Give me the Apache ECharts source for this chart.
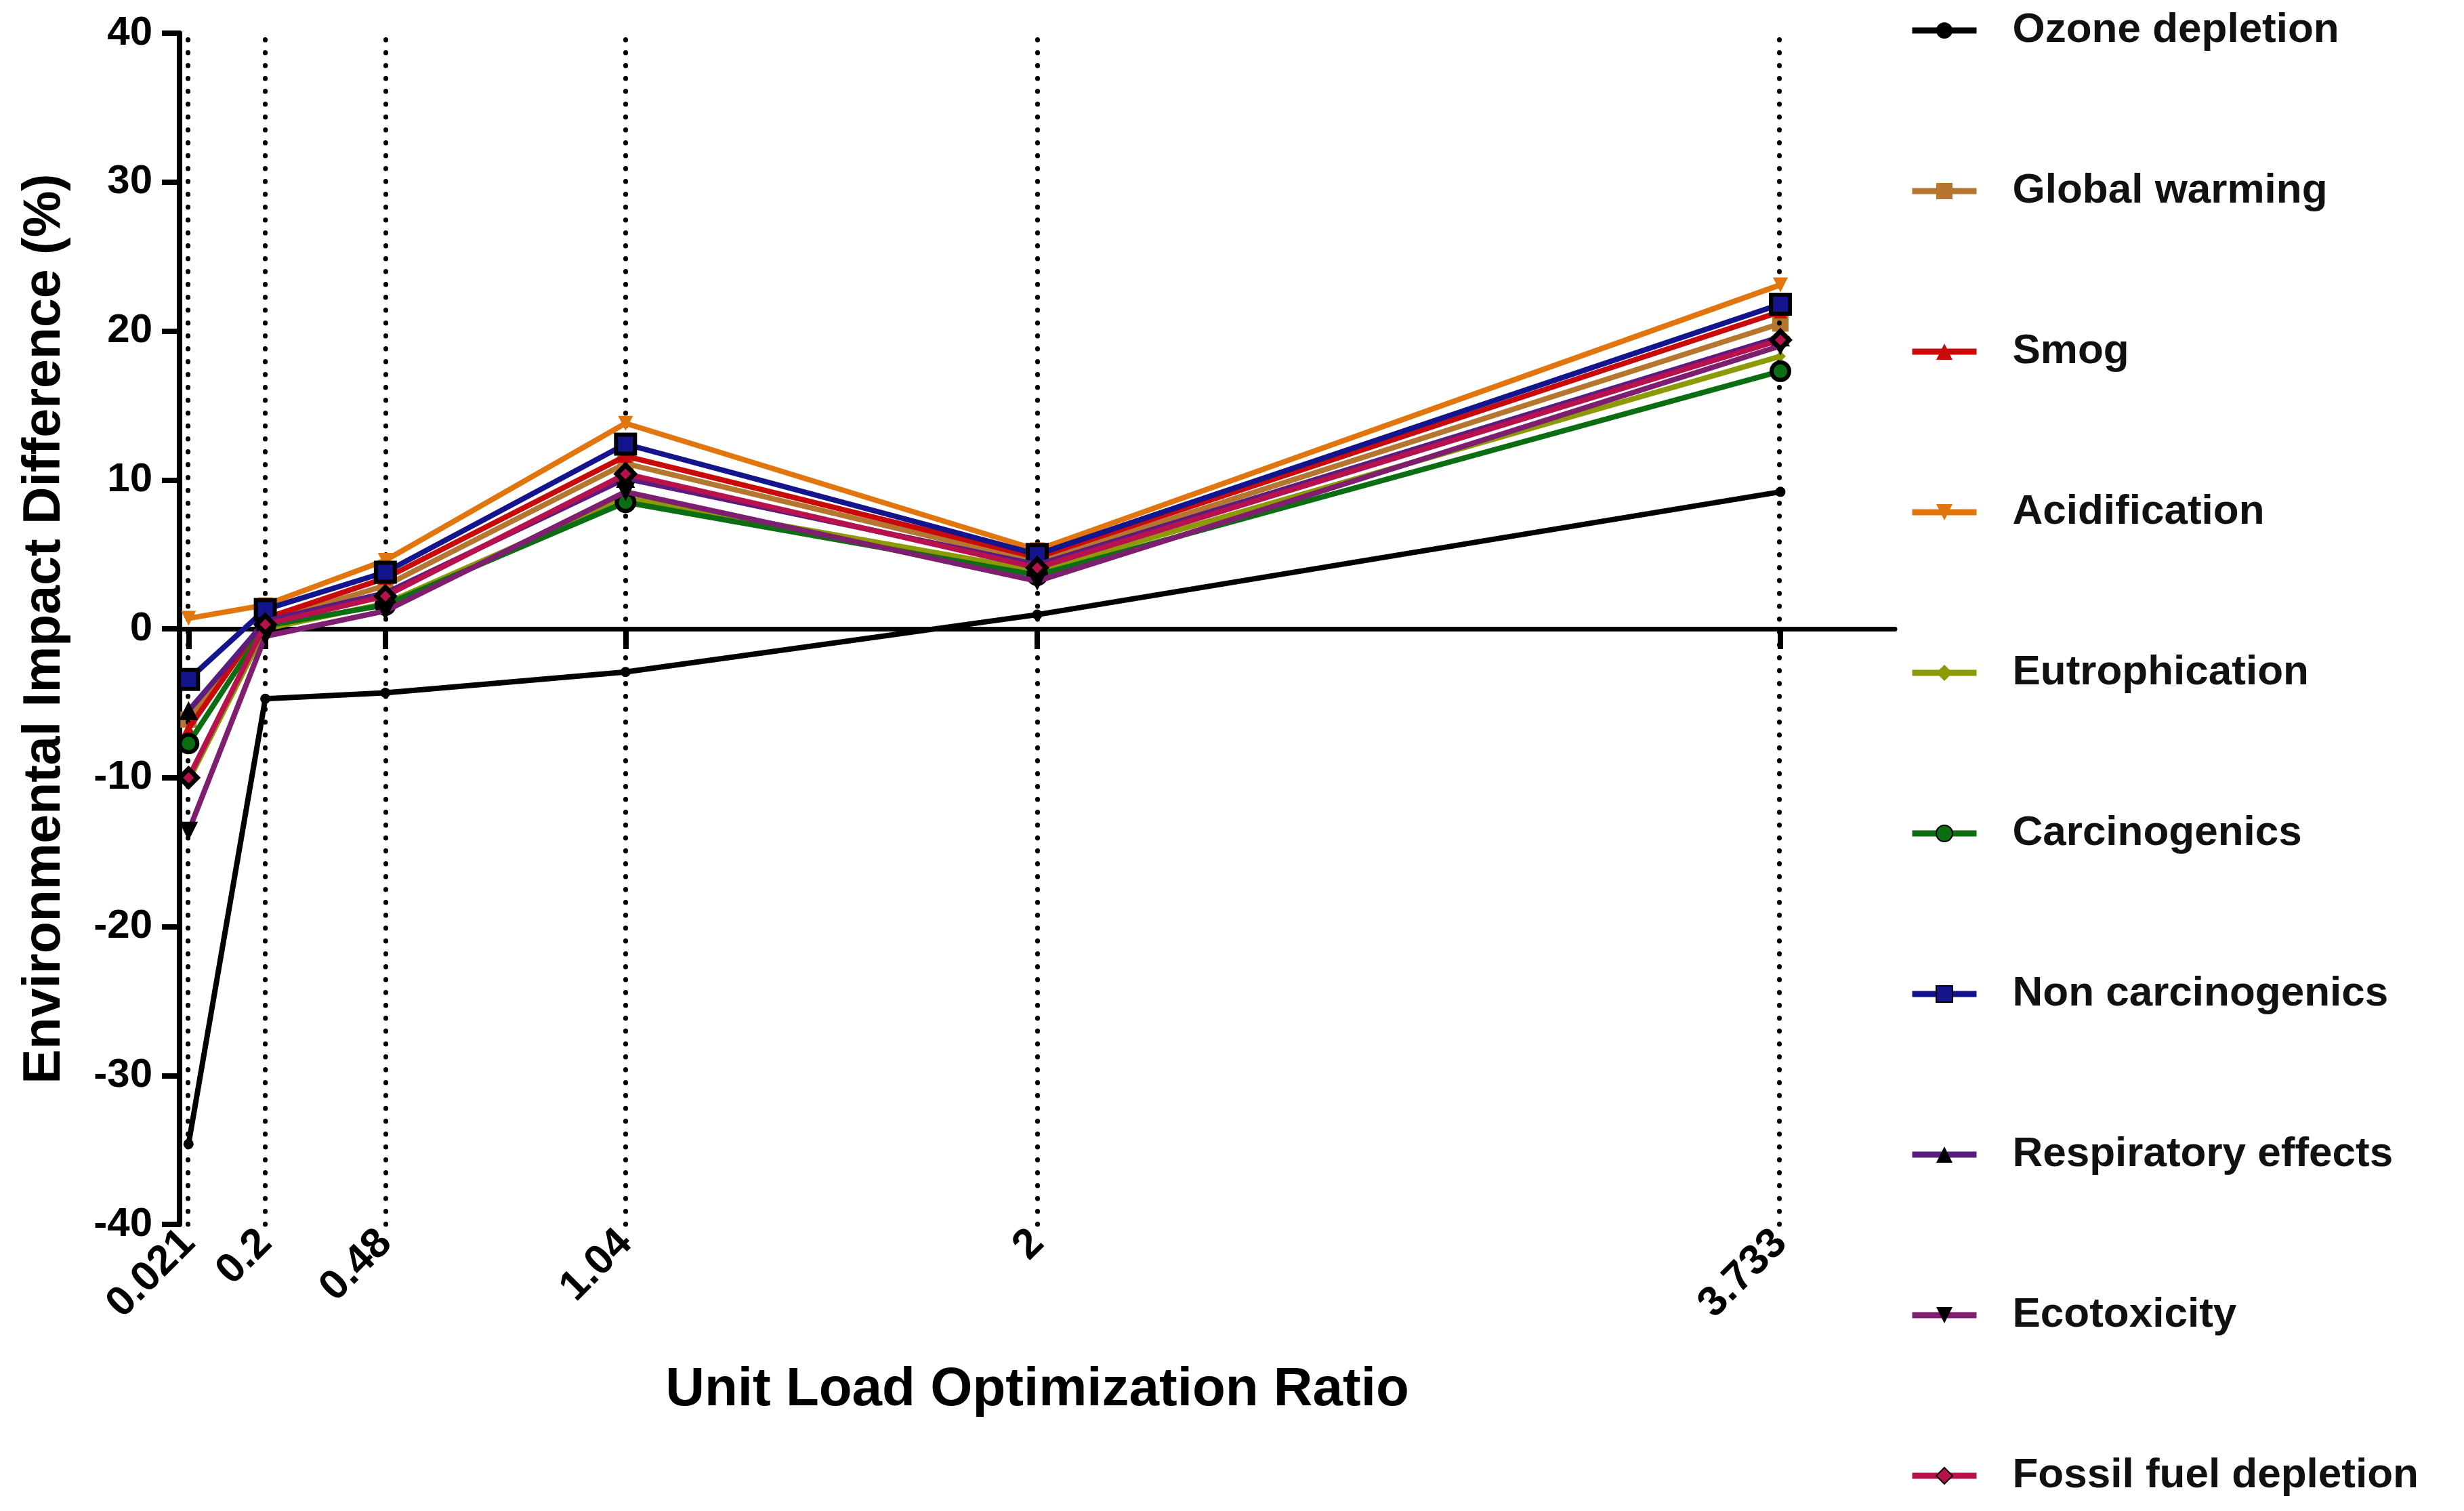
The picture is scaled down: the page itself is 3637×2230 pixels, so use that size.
<!DOCTYPE html>
<html>
<head>
<meta charset="utf-8">
<script src="https://cdn.jsdelivr.net/npm/echarts@6.0.0/dist/echarts.min.js"></script>
<style>
html,body{margin:0;padding:0;background:#fff;}
#chart{width:3637px;height:2230px;}
</style>
</head>
<body>
<div id="chart"></div>
<script>
// ---- data ----
const X_VALUES = [0.021, 0.2, 0.48, 1.04, 2, 3.733];
const X_LABELS = ['0.021', '0.2', '0.48', '1.04', '2', '3.733'];
const Y_TICKS = [-40, -30, -20, -10, 0, 10, 20, 30, 40];

const SERIES_NAMES = [
  'Ozone depletion', 'Global warming', 'Smog', 'Acidification', 'Eutrophication',
  'Carcinogenics', 'Non carcinogenics', 'Respiratory effects', 'Ecotoxicity', 'Fossil fuel depletion'
];

const ozoneDepletion      = [-34.6, -4.7, -4.3, -2.9, 0.95, 9.2];
const globalWarming       = [-6.1, 0.5, 2.9, 11.1, 4.5, 20.5];
const smog                = [-6.7, 0.7, 3.4, 11.6, 4.8, 21.3];
const acidification       = [0.7, 1.6, 4.6, 13.8, 5.3, 23.1];
const eutrophication      = [-10.2, 0.0, 1.7, 8.8, 3.9, 18.3];
const carcinogenics       = [-7.7, 0.2, 1.6, 8.5, 3.6, 17.3];
const nonCarcinogenics    = [-3.4, 1.3, 3.8, 12.4, 5.0, 21.8];
const respiratoryEffects  = [-5.5, 0.5, 2.4, 10.1, 4.3, 19.6];
const ecotoxicity         = [-13.6, -0.5, 1.2, 9.2, 3.2, 19.0];
const fossilFuelDepletion = [-10.0, 0.3, 2.2, 10.4, 4.1, 19.4];

const SERIES_VALUES = [ozoneDepletion, globalWarming, smog, acidification, eutrophication,
  carcinogenics, nonCarcinogenics, respiratoryEffects, ecotoxicity, fossilFuelDepletion];

// ---- styles ----
const FONT = "'Liberation Sans', Arial, Helvetica, sans-serif";
const INV_TRI = 'path://M0,0 L20,0 L10,18 Z';
const STYLES = [
  {line: '#000000', symbol: 'circle',   size: 15, fill: '#000000', border: '#000000', bw: 0},
  {line: '#B5772F', symbol: 'rect',     size: 24, fill: '#B5772F', border: '#B5772F', bw: 0},
  {line: '#C80A0A', symbol: 'triangle', size: 20, fill: '#C80A0A', border: '#C80A0A', bw: 0},
  {line: '#E2760E', symbol: INV_TRI,    size: 22, fill: '#E2760E', border: '#E2760E', bw: 0},
  {line: '#8C9A05', symbol: 'diamond',  size: 16, fill: '#8C9A05', border: '#8C9A05', bw: 0},
  {line: '#0B6E12', symbol: 'circle',   size: 26, fill: '#0B6E12', border: '#000000', bw: 6},
  {line: '#14148C', symbol: 'rect',     size: 28, fill: '#14148C', border: '#000000', bw: 6},
  {line: '#5A1C7E', symbol: 'triangle', size: 28, fill: '#000000', border: '#000000', bw: 0},
  {line: '#7E1E6E', symbol: INV_TRI,    size: 28, fill: '#000000', border: '#000000', bw: 0},
  {line: '#B8124E', symbol: 'diamond',  size: 26, fill: '#B8124E', border: '#000000', bw: 7}
];

const series = SERIES_NAMES.map((name, i) => {
  const st = STYLES[i];
  const s = {
    name: name,
    type: 'line',
    xAxisIndex: 0,
    yAxisIndex: 0,
    data: X_VALUES.map((x, j) => [x, SERIES_VALUES[i][j]]),
    symbol: st.symbol,
    symbolSize: st.size,
    showAllSymbol: true,
    lineStyle: {color: st.line, width: 8},
    itemStyle: {color: st.fill, borderColor: st.border, borderWidth: st.bw},
    emphasis: {disabled: true},
    z: 3 + i
  };
  if (i === 0) {
    s.markLine = {
      silent: true,
      symbol: ['none', 'none'],
      label: {show: false},
      lineStyle: {color: '#000', width: 7, type: [0.5, 18.5], cap: 'round'},
      emphasis: {disabled: true},
      data: X_VALUES.map(v => ({xAxis: v}))
    };
  }
  return s;
});

const chart = echarts.init(document.getElementById('chart'), null, {renderer: 'canvas'});
chart.setOption({
  animation: false,
  backgroundColor: '#ffffff',
  grid: {left: 265, right: 840, top: 49, bottom: 423, containLabel: false},
  legend: {
    orient: 'vertical',
    left: 2818,
    top: 14,
    itemWidth: 95,
    itemHeight: 30,
    itemGap: 175,
    padding: 0,
    selectedMode: false,
    data: SERIES_NAMES,
    lineStyle: {width: 9},
    textStyle: {fontFamily: FONT, fontSize: 62, fontWeight: 'bold', color: '#111', lineHeight: 62,
                padding: [0, 0, 0, 48]}
  },
  xAxis: [
    {
      type: 'value', position: 'bottom', min: 0, max: 4,
      name: 'Unit Load Optimization Ratio', nameLocation: 'middle', nameGap: 205,
      nameTextStyle: {fontFamily: FONT, fontSize: 80, fontWeight: 'bold', color: '#000'},
      axisLine: {show: false, onZero: false},
      axisTick: {show: false},
      splitLine: {show: false},
      axisLabel: {
        customValues: X_VALUES, rotate: 45, margin: 18,
        fontFamily: FONT, fontSize: 62, fontWeight: 'bold', color: '#000',
        formatter: v => { const k = X_VALUES.indexOf(v); return k >= 0 ? X_LABELS[k] : ''; }
      }
    },
    {
      type: 'value', position: 'top', min: 0, max: 4,
      axisLine: {show: true, onZero: true, lineStyle: {color: '#000', width: 7}},
      axisTick: {show: true, customValues: X_VALUES, inside: true, length: 30, lineStyle: {color: '#000', width: 8}},
      axisLabel: {show: false},
      splitLine: {show: false}
    }
  ],
  yAxis: {
    type: 'value', min: -40, max: 40, interval: 10,
    name: 'Environmental Impact Difference (%)', nameLocation: 'middle', nameGap: 160,
    nameTextStyle: {fontFamily: FONT, fontSize: 77, fontWeight: 'bold', color: '#000'},
    axisLine: {show: true, onZero: false, lineStyle: {color: '#000', width: 8}},
    axisTick: {show: true, length: 26, lineStyle: {color: '#000', width: 8}},
    splitLine: {show: false},
    axisLabel: {
      margin: 40, fontFamily: FONT, fontSize: 60, fontWeight: 'bold', color: '#000',
      formatter: v => (Y_TICKS.indexOf(v) >= 0 ? String(v) : '')
    }
  },
  series: series
});
</script>
</body>
</html>
